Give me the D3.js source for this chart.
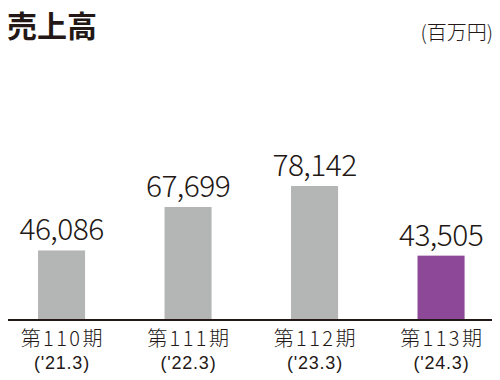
<!DOCTYPE html>
<html>
<head>
<meta charset="utf-8">
<script src="https://cdn.jsdelivr.net/npm/d3@7"></script>
<style>
    body { margin: 0; background: #fff; }
    svg { display: block; }
    text { font-family: "Noto Sans CJK JP", "Noto Sans", sans-serif; fill: #231815; }
    .fy { font-family: "Liberation Sans", "Noto Sans", sans-serif; }
</style>
</head>
<body>
<div class="chartSales"></div>
<script>
// #region Data
const periods = ['第110期', '第111期', '第112期', '第113期'];
const fiscalYears = ["('21.3)", "('22.3)", "('23.3)", "('24.3)"];
const sales = [46086, 67699, 78142, 43505];
const barColors = ['#b4b5b5', '#b4b5b5', '#b4b5b5', '#8e4898'];
const chartTitle = '売上高';
const unitLabel = '(百万円)';
// #endregion

const width = 500, height = 380;
const baseY = 320;

let svg = d3.select('.chartSales')
    .append('svg')
    .attr('width', width)
    .attr('height', height);

// #region Title
svg.append('text')
    .attr('x', 7)
    .attr('y', 37)
    .attr('font-size', 30)
    .attr('font-weight', 'bold')
    .text(chartTitle);

svg.append('text')
    .attr('x', 493)
    .attr('y', 40)
    .attr('text-anchor', 'end')
    .attr('font-size', 20)
    .attr('font-weight', 300)
    .text(unitLabel);
// #endregion

// #region Scales
let xScale = d3.scaleBand()
    .domain(periods)
    .range([-1.7, 504.3])
    .paddingInner(0.628)
    .paddingOuter(0.314);

// the axis does not start at zero in the original
let yScale = d3.scaleLinear()
    .domain([11500, 78142])
    .range([baseY, 186]);
// #endregion

// #region Bars
let gBars = svg.append('g').attr('class', 'gBars');
gBars.selectAll('rect')
    .data(periods)
    .enter()
    .append('rect')
    .attr('x', d => xScale(d))
    .attr('y', (d, i) => yScale(sales[i]))
    .attr('width', xScale.bandwidth())
    .attr('height', (d, i) => baseY - yScale(sales[i]))
    .attr('fill', (d, i) => barColors[i]);

gBars.selectAll('.valueLabel')
    .data(periods)
    .enter()
    .append('text')
    .attr('class', 'valueLabel')
    .attr('x', d => xScale(d) + xScale.bandwidth() / 2)
    .attr('y', (d, i) => yScale(sales[i]) - 10)
    .attr('text-anchor', 'middle')
    .attr('font-size', 30)
    .attr('font-weight', 300)
    .attr('letter-spacing', -0.6)
    .text((d, i) => d3.format(',')(sales[i]));
// #endregion

// #region Axis
svg.append('line')
    .attr('x1', 8)
    .attr('x2', 492)
    .attr('y1', baseY)
    .attr('y2', baseY)
    .attr('stroke', '#231815')
    .attr('stroke-width', 2);

let gAxis = svg.append('g').attr('class', 'xLabels');
gAxis.selectAll('.period')
    .data(periods)
    .enter()
    .append('text')
    .attr('class', 'period')
    .attr('x', d => xScale(d) + xScale.bandwidth() / 2 + 1.2)
    .attr('y', 346)
    .attr('text-anchor', 'middle')
    .attr('font-size', 20)
    .attr('font-weight', 300)
    .attr('letter-spacing', 2.4)
    .text(d => d);

gAxis.selectAll('.fy')
    .data(periods)
    .enter()
    .append('text')
    .attr('class', 'fy')
    .attr('x', d => xScale(d) + xScale.bandwidth() / 2 + 0.4)
    .attr('y', 369)
    .attr('text-anchor', 'middle')
    .attr('font-size', 18)
    .attr('letter-spacing', 0.8)
    .text((d, i) => fiscalYears[i]);
// #endregion
</script>
</body>
</html>
